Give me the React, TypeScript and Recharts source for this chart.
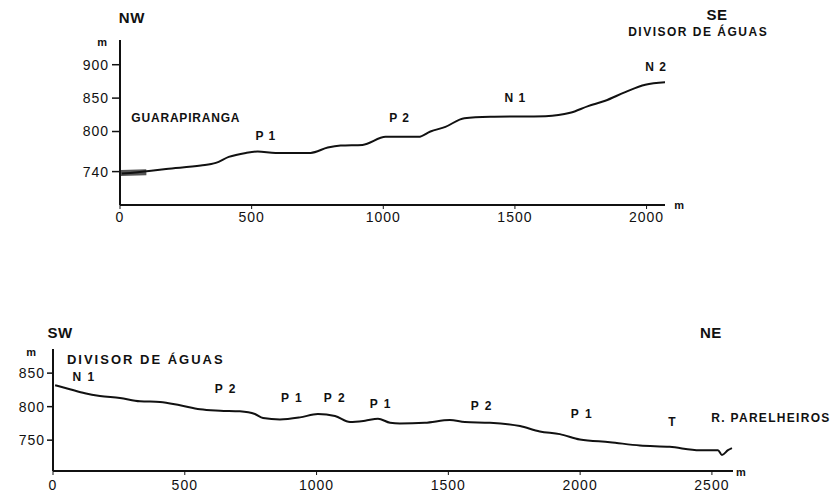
import { LineChart, Line, XAxis, YAxis, ReferenceDot } from 'recharts'

// NW - SE profile (distance m, elevation m)
const topDist = [7, 110, 175, 307, 364, 413, 478, 523, 591, 724, 789, 838, 921, 1009, 1066, 1134, 1179, 1236, 1308, 1407, 1616, 1710, 1778, 1843, 1919, 1995, 2078]
const topElev = [737, 741, 744, 749, 753, 762, 768, 770, 768, 768, 776, 779, 780, 792, 792, 792, 800, 807, 820, 822, 823, 828, 838, 846, 859, 870, 874]
const lakeDist = [3, 100]
const lakeElev = [738, 739]

// SW - NE profile
const botDist = [8, 64, 121, 178, 254, 330, 406, 482, 558, 634, 709, 766, 797, 861, 937, 1005, 1070, 1127, 1184, 1233, 1279, 1316, 1411, 1506, 1563, 1658, 1772, 1847, 1923, 1999, 2113, 2227, 2340, 2454, 2523, 2538, 2561, 2576]
const botElev = [832, 826, 820, 816, 813, 808, 807, 802, 796, 794, 793, 789, 783, 781, 784, 789, 786, 777, 779, 782, 776, 775, 776, 780, 777, 776, 771, 763, 759, 751, 747, 742, 740, 735, 735, 728, 735, 738]

const topXTicks = [0, 500, 1000, 1500, 2000]
const topYTicks = [740, 800, 850, 900]
const botXTicks = [0, 500, 1000, 1500, 2000, 2500]
const botYTicks = [750, 800, 850]

// annotations: [distance, elevation, text, font size, letter spacing]
const topNotes: [number, number, string, number, number][] = [
  [45, 970, 'NW', 15, 0.5],
  [2268, 975, 'SE', 15, 0.5],
  [2196, 950, 'DIVISOR DE ÁGUAS', 12, 1.5],
  [-68, 934, 'm', 11, 0],
  [2124, 690, 'm', 11, 0],
  [250, 821, 'GUARAPIRANGA', 12, 0.8],
  [554, 794, 'P 1', 12, 1],
  [1062, 821, 'P 2', 12, 1],
  [1502, 851, 'N 1', 12, 1],
  [2036, 897, 'N 2', 12, 1],
]
const botNotes: [number, number, string, number, number][] = [
  [27, 910, 'SW', 15, 0.5],
  [2496, 910, 'NE', 15, 0.5],
  [-83, 881, 'm', 11, 0],
  [2610, 703, 'm', 11, 0],
  [352, 871, 'DIVISOR DE ÁGUAS', 13, 2],
  [118, 844, 'N 1', 12, 1.5],
  [656, 826, 'P 2', 12, 1.5],
  [907, 813, 'P 1', 12, 1.5],
  [1070, 813, 'P 2', 12, 1.5],
  [1244, 805, 'P 1', 12, 1.5],
  [1627, 802, 'P 2', 12, 1.5],
  [2007, 790, 'P 1', 12, 1.5],
  [2348, 777, 'T', 12, 0],
  [2724, 783, 'R. PARELHEIROS', 12, 1.3],
]

const font = '"Liberation Sans", Arial, sans-serif'
const tick = { fill: '#111', fontSize: 14, fontWeight: 500, fontFamily: font, letterSpacing: 1 }
const axisLine = { stroke: '#111', strokeWidth: 2 }

const topData = topDist.map((d, i) => ({ d, elev: topElev[i] }))
const lakeData = lakeDist.map((d, i) => ({ d, lake: lakeElev[i] }))
const botData = botDist.map((d, i) => ({ d, elev: botElev[i] }))

function notes(list: [number, number, string, number, number][]) {
  return list.map(([x, y, t, s, ls], i) => (
    <ReferenceDot
      key={i}
      x={x}
      y={y}
      r={0}
      ifOverflow="visible"
      label={{
        value: t,
        position: 'center',
        fill: '#111',
        fontSize: s,
        fontWeight: 600,
        fontFamily: font,
        letterSpacing: ls,
      }}
    />
  ))
}

export default function App() {
  return (
    <div style={{ position: 'absolute', left: 0, top: 0, width: 838, height: 492, background: '#fff' }}>
      <div style={{ position: 'absolute', left: 0, top: 0 }}>
        <LineChart width={838} height={492} data={topData} margin={{ top: 40, right: 173, bottom: 257, left: 0 }}>
          <XAxis
            dataKey="d"
            type="number"
            domain={[0, 2070]}
            ticks={topXTicks}
            allowDataOverflow
            height={30}
            tick={tick}
            tickSize={4}
            tickMargin={3}
            axisLine={axisLine}
            tickLine={{ stroke: '#111' }}
          />
          <YAxis
            type="number"
            domain={[690, 937]}
            ticks={topYTicks}
            width={120}
            tick={tick}
            tickSize={8}
            tickMargin={3}
            axisLine={axisLine}
            tickLine={{ stroke: '#111', strokeWidth: 1.5 }}
          />
          <Line data={lakeData} dataKey="lake" stroke="#555" strokeWidth={6} dot={false} isAnimationActive={false} />
          <Line dataKey="elev" type="monotone" stroke="#111" strokeWidth={2} dot={false} isAnimationActive={false} />
          {notes(topNotes)}
        </LineChart>
      </div>
      <div style={{ position: 'absolute', left: 0, top: 0 }}>
        <LineChart width={838} height={492} data={botData} margin={{ top: 349, right: 105, bottom: 1, left: 0 }}>
          <XAxis
            dataKey="d"
            type="number"
            domain={[0, 2580]}
            ticks={botXTicks}
            height={20}
            tick={tick}
            tickSize={4}
            tickMargin={5}
            axisLine={axisLine}
            tickLine={{ stroke: '#111' }}
          />
          <YAxis
            type="number"
            domain={[704, 886]}
            ticks={botYTicks}
            width={53}
            tick={tick}
            tickSize={6}
            tickMargin={2}
            axisLine={axisLine}
            tickLine={{ stroke: '#111', strokeWidth: 1.5 }}
          />
          <Line dataKey="elev" type="monotone" stroke="#111" strokeWidth={2} dot={false} isAnimationActive={false} />
          {notes(botNotes)}
        </LineChart>
      </div>
    </div>
  )
}
